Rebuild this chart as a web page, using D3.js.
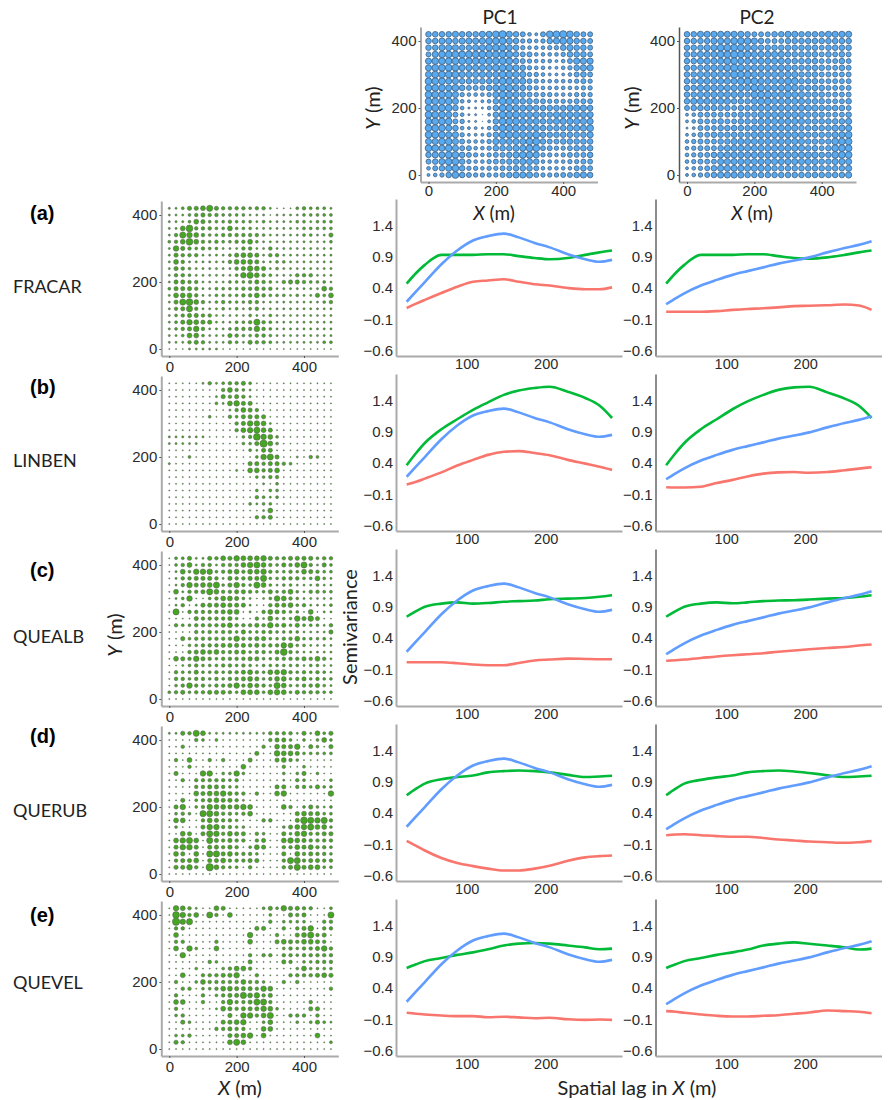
<!DOCTYPE html>
<html>
<head>
<meta charset="utf-8">
<style type="text/css">
	body { margin: 0; background: white; }
	svg { display: block; }
	text { fill: #222; }
	.tick text { font-family: "Liberation Sans", Arial, sans-serif; fill: #2b2b2b; }
	.label { font-family: Lato, "Open Sans", sans-serif; }
	.letter { font-family: "Liberation Sans", Arial, sans-serif; font-weight: bold; font-size: 20px; fill: black; }
</style>
</head>
<body>
<svg id="chart" width="888" height="1100"></svg>
<script src="https://d3js.org/d3.v7.min.js"></script>
<script>
// abundance class (0-9) per stem-map cell, rows go from Y=420 down to Y=0, columns X=0..480
var pc1Rows = [
	"66667 66677 89765 32588 98655", "66776 77778 88764 43467 87665", "66777 66778 88764 33344 67665",
	"57888 88888 88865 53333 46665", "78888 88888 88865 43332 35777", "78888 77777 88876 43322 34677",
	"78888 77777 78877 44322 23565", "88877 66666 78877 54333 33454", "88878 65556 78876 54333 33344",
	"88887 43334 78876 54443 33444", "88887 32123 68876 65544 44555", "88886 31113 68877 76666 67776",
	"88875 31102 68887 77667 77777", "88885 41102 68887 77667 77777", "88876 32213 68887 77666 67778",
	"88877 42224 68887 78666 66667", "77887 53334 77777 88655 66666", "88787 55334 66677 88554 45666",
	"67788 65434 55678 87443 45556", "56788 64334 55667 76333 34455", "35678 64434 45566 65333 33565",
	"23468 65444 45677 75444 55676"
];
var pc2Rows = [
	"66777 77776 55566 77666 67777", "66667 77888 76555 66666 66666", "66677 88887 76666 66666 56666",
	"66777 88988 77777 66666 56565", "66777 78877 77777 66666 55565", "66677 78987 77777 76666 65565",
	"66777 77988 77777 77666 55555", "66777 77788 87777 88666 55555", "66777 77777 88777 87666 65555",
	"66777 77776 88877 87766 65555", "67777 77666 78877 77766 65556", "56666 66566 77777 77777 66665",
	"23555 55566 67777 77766 65556", "23555 65566 67777 77766 66667", "12555 66666 77777 77666 66777",
	"23556 66666 77777 77766 66778", "34555 66777 77777 77766 66888", "34555 67777 77777 77766 56888",
	"34556 77777 77777 77777 66888", "34555 77777 77777 77777 66777", "23456 77777 77766 66666 66667",
	"23456 77776 66666 66666 66667"
];
var fracarRows = [
	"11244 57433 33233 10002 32221", "11123 43322 22111 01111 22222", "11125 42223 22212 11112 21222",
	"11583 33225 22211 11111 22222", "13765 32233 33332 11111 22114", "23585 32322 33521 11111 11112",
	"16432 32211 13311 31111 11111", "14333 11112 45541 33111 11111", "15311 11113 55541 12211 11111",
	"14321 11111 34654 12111 11111", "13321 11111 26753 21113 33111", "14433 11112 22343 21344 32221",
	"24443 11222 23343 31111 11153", "15553 11222 23353 22212 11425", "14785 31232 22331 11111 11123",
	"13473 11121 21231 11111 11111", "12344 33111 11211 21111 11111", "12465 44111 22373 21111 11111",
	"12346 31112 33363 21111 11111", "11255 21114 32233 21111 11111", "11134 31113 21433 21111 11122",
	"00011 11100 00000 00000 00000"
];
var linbenRows = [
	"00000 13123 34200 00000 00000", "00000 00035 32100 00000 00000", "00000 00143 43100 00000 00000",
	"00000 00215 64400 00000 00000", "00000 00001 35430 00000 00000", "00000 02003 24444 00000 00000",
	"00000 00000 34665 10000 00000", "00000 00000 35675 40000 00000", "11111 10000 02386 52000 00000",
	"11111 00000 02249 52000 00000", "00000 00000 00214 40000 00000", "00020 00000 00026 74001 03200",
	"10000 00000 00443 44320 00000", "00000 00000 10553 45000 00000", "00000 00000 00022 33000 00000",
	"00000 00000 00001 02000 00000", "00000 00000 00020 22000 00000", "00000 00000 00032 12000 00000",
	"00000 00000 00212 20000 00000", "00000 00000 00001 50000 00000", "00000 00000 00033 40000 00000",
	"00000 00000 00000 00000 00000"
];
var quealbRows = [
	"02241 14354 65556 43344 44233", "02351 33133 35675 32435 73142", "01526 66234 53556 32232 54322",
	"01334 44314 33447 22333 22521", "01364 55724 63275 21221 11211", "05133 47533 44322 42352 13322",
	"01260 02355 42101 26532 11111", "01301 44454 44100 34452 31112", "07033 33345 50103 54322 05011",
	"00004 33334 20031 52226 46400", "03223 33345 33343 63424 22213", "00003 23233 24223 32222 11114",
	"00423 33333 63344 22335 22221", "00022 33344 44343 33652 21111", "00034 54533 44233 24832 11111",
	"05436 43233 33442 23333 43531", "00123 22233 23212 22222 12211", "03224 22323 34532 55632 32321",
	"03323 32323 34542 35523 42322", "02363 32334 63543 27522 33421", "23423 34443 25552 56524 33322",
	"00000 00000 00000 00000 00000"
];
var querubRows = [
	"11437 51111 11111 33331 41524", "00003 20200 00000 34420 20252", "00300 00000 00003 05446 04204",
	"00000 00000 00040 06554 22222", "03050 03030 00400 04532 00000", "00030 00000 05000 00300 20000",
	"04000 66022 62000 00202 40200", "00303 33332 30000 00103 20002", "00003 34432 20000 04403 32422",
	"00005 45564 33030 05600 00006", "00402 34544 31000 00000 00000", "04602 36554 56500 00530 24212",
	"02320 77533 23500 00004 54422", "05500 35433 20003 30004 87673", "02000 46633 22000 00245 67552",
	"00540 47635 44032 00425 63344", "05675 07434 33034 00565 43333", "04664 04434 30254 00335 45332",
	"05405 07745 33320 00405 34332", "03445 04453 33440 00377 34433", "04463 09532 20300 00347 45522",
	"00000 00000 00000 00000 00000"
];
var quevelRows = [
	"06531 00540 00002 42644 33002", "08635 07305 00000 20043 40007", "09670 00000 00000 30222 20033",
	"03300 00000 00044 00303 46033", "05000 00000 00600 03004 57340", "03300 00300 00500 04543 55430",
	"05062 00500 00000 00232 33463", "00600 00000 00303 30332 33333", "00000 03200 00400 00430 22333",
	"00002 00023 55300 00002 52222", "00500 33344 60030 00033 33454", "03002 53333 35332 00303 00000",
	"00330 22355 44436 50000 00003", "03000 30234 47563 40000 00000", "05500 30036 33477 30000 03000",
	"03000 00154 34446 52000 04400", "02300 00004 06635 70033 30300", "00420 00044 56002 50002 02421",
	"00000 00334 33005 50000 00000", "02230 00004 45605 00000 00500", "04300 00005 75000 00000 00002",
	"00000 00000 00000 00000 00000"
];

// semivariance curves, all read at these lags
var lags = [24, 36, 47, 68, 88, 108, 127, 147, 166, 186, 205, 228, 250, 268, 284];
var pc1Var = [0.18, 0.345, 0.495, 0.78, 1.0, 1.16, 1.23, 1.27, 1.21, 1.12, 1.05, 0.94, 0.86, 0.82, 0.85];
var pc2Var = [0.14, 0.235, 0.315, 0.44, 0.53, 0.61, 0.67, 0.73, 0.79, 0.84, 0.89, 0.97, 1.04, 1.09, 1.15];

var fracarVar = [0.47, 0.64, 0.77, 0.93, 0.93, 0.93, 0.94, 0.94, 0.91, 0.88, 0.86, 0.88, 0.93, 0.97, 1.00];
var fracarPc1 = [0.08, 0.15, 0.21, 0.32, 0.42, 0.50, 0.52, 0.54, 0.50, 0.46, 0.44, 0.40, 0.38, 0.38, 0.41];
var fracarVar2 = [0.47, 0.64, 0.77, 0.93, 0.93, 0.93, 0.94, 0.94, 0.91, 0.88, 0.87, 0.89, 0.93, 0.97, 1.00];
var fracarPc2 = [0.02, 0.02, 0.02, 0.02, 0.03, 0.05, 0.065, 0.075, 0.09, 0.11, 0.115, 0.125, 0.135, 0.12, 0.05];

var linbenVar = [0.365, 0.56, 0.72, 0.94, 1.10, 1.25, 1.37, 1.49, 1.56, 1.60, 1.62, 1.54, 1.44, 1.32, 1.12];
var linbenPc1 = [0.056, 0.10, 0.15, 0.25, 0.36, 0.45, 0.53, 0.58, 0.59, 0.56, 0.525, 0.45, 0.39, 0.34, 0.29];
var linbenVar2 = [0.365, 0.56, 0.72, 0.94, 1.10, 1.26, 1.385, 1.49, 1.57, 1.61, 1.62, 1.53, 1.43, 1.315, 1.12];
var linbenPc2 = [0.013, 0.008, 0.008, 0.02, 0.08, 0.13, 0.185, 0.23, 0.25, 0.255, 0.243, 0.255, 0.285, 0.31, 0.333];

var quealbVar = [0.74, 0.83, 0.90, 0.95, 0.97, 0.95, 0.96, 0.98, 0.99, 1.00, 1.02, 1.03, 1.04, 1.06, 1.085];
var quealbPc1 = [0.013, 0.013, 0.013, 0.013, -0.003, -0.025, -0.035, -0.035, 0.0, 0.04, 0.055, 0.07, 0.065, 0.06, 0.06];
var quealbVar2 = [0.74, 0.83, 0.90, 0.95, 0.97, 0.955, 0.97, 0.99, 1.00, 1.005, 1.015, 1.03, 1.04, 1.06, 1.085];
var quealbPc2 = [0.035, 0.045, 0.055, 0.08, 0.105, 0.125, 0.14, 0.157, 0.18, 0.20, 0.22, 0.24, 0.255, 0.28, 0.295];

var querubVar = [0.685, 0.79, 0.87, 0.94, 0.975, 1.00, 1.05, 1.07, 1.08, 1.07, 1.05, 1.01, 0.975, 0.985, 0.995];
var querubPc1 = [-0.045, -0.125, -0.20, -0.32, -0.40, -0.45, -0.49, -0.52, -0.52, -0.49, -0.445, -0.365, -0.31, -0.29, -0.28];
var querubVar2 = [0.685, 0.79, 0.87, 0.93, 0.97, 1.00, 1.05, 1.07, 1.08, 1.065, 1.04, 1.005, 0.975, 0.985, 0.995];
var querubPc2 = [0.045, 0.056, 0.06, 0.045, 0.03, 0.02, 0.02, 0.0, -0.024, -0.04, -0.056, -0.067, -0.077, -0.067, -0.05];

var quevelVar = [0.72, 0.78, 0.83, 0.88, 0.93, 0.97, 1.02, 1.08, 1.11, 1.12, 1.11, 1.08, 1.05, 1.02, 1.03];
var quevelPc1 = [0.003, -0.013, -0.024, -0.04, -0.05, -0.05, -0.067, -0.06, -0.07, -0.083, -0.077, -0.10, -0.11, -0.105, -0.11];
var quevelVar2 = [0.72, 0.78, 0.83, 0.88, 0.93, 0.97, 1.015, 1.08, 1.11, 1.13, 1.107, 1.08, 1.05, 1.015, 1.03];
var quevelPc2 = [0.03, 0.02, 0.003, -0.024, -0.045, -0.056, -0.056, -0.045, -0.035, -0.013, 0.008, 0.04, 0.03, 0.02, -0.003];

var mapTicks = [0, 200, 400];
var varTicks = [-0.6, -0.1, 0.4, 0.9, 1.4];
var lagTicks = [100, 200];

var speciesNames = ["FRACAR", "LINBEN", "QUEALB", "QUERUB", "QUEVEL"];
var rowLetters = ["(a)", "(b)", "(c)", "(d)", "(e)"];
var speciesRows = [fracarRows, linbenRows, quealbRows, querubRows, quevelRows];
var pc1Series = [[fracarVar, fracarPc1], [linbenVar, linbenPc1], [quealbVar, quealbPc1], [querubVar, querubPc1], [quevelVar, quevelPc1]];
var pc2Series = [[fracarVar2, fracarPc2], [linbenVar2, linbenPc2], [quealbVar2, quealbPc2], [querubVar2, querubPc2], [quevelVar2, quevelPc2]];

var svg = d3.select("#chart");
var rowBottom = [356, 531, 706, 881, 1056];
var letterY = [220, 394, 577, 743, 922];
var nameY = [293, 467, 643, 817, 989];

// turn digit rows into {x, y, size} cells
function cellsFrom(rows) {
	var cells = [];
	rows.forEach(function(row, j) {
		row.replace(/ /g, "").split("").forEach(function(c, i) {
			cells.push({x: i * 20, y: (rows.length - 1 - j) * 20, size: +c});
		});
	});
	return cells;
}

function styleAxis(g, color, width) {
	g.select(".domain").attr("stroke", color).attr("stroke-width", width);
	g.selectAll(".tick line").attr("stroke", "#555");
}

function drawMap(rows, left, bottom, fill, stroke, rScale, strokeW, axisColor, axisW, tickPad) {
	var xScale = d3.scaleLinear().domain([0, 400]).range([left + 8, left + 142.7]);
	var yScale = d3.scaleLinear().domain([0, 400]).range([bottom - 7, bottom - 141]);
	var plot = svg.append("g");
	plot.selectAll("circle")
		.data(cellsFrom(rows))
		.enter()
		.append("circle")
		.attr("cx", function(d) { return xScale(d.x); })
		.attr("cy", function(d) { return yScale(d.y); })
		.attr("r", function(d) { return rScale(d.size); })
		.attr("fill", fill)
		.attr("stroke", stroke)
		.attr("stroke-width", strokeW);

	var yAxis = svg.append("g")
		.attr("transform", "translate(" + left + ",0)")
		.style("font-size", "15px")
		.call(d3.axisLeft(d3.scaleLinear().domain([yScale.invert(bottom - 155), yScale.invert(bottom)]).range([bottom - 155, bottom]))
			.tickValues(mapTicks).tickSize(2).tickPadding(2).tickSizeOuter(0).tickFormat(d3.format("d")));
	styleAxis(yAxis, axisColor, axisW);
	var xAxis = svg.append("g")
		.attr("transform", "translate(0," + bottom + ")")
		.style("font-size", "15px")
		.call(d3.axisBottom(d3.scaleLinear().domain([xScale.invert(left), xScale.invert(left + 177)]).range([left, left + 177]))
			.tickValues(mapTicks).tickSize(2).tickPadding(tickPad).tickSizeOuter(0).tickFormat(d3.format("d")));
	styleAxis(xAxis, "#aaa", 2);
}

function drawCurves(left, bottom, blue, series, axisColor, axisW) {
	var xScale = d3.scaleLinear().domain([100, 200]).range([left + 70.7, left + 149.7]);
	var yScale = d3.scaleLinear().domain([-0.6, 1.4]).range([bottom - 5.5, bottom - 130.5]);
	var line = d3.line()
		.x(function(d, i) { return xScale(lags[i]); })
		.y(function(d) { return yScale(d); })
		.curve(d3.curveMonotoneX);
	// blue = PC alone, green = species alone, red = cross variogram
	[[series[1], "#F8766D"], [series[0], "#00BA38"], [blue, "#619CFF"]].forEach(function(s) {
		svg.append("path")
			.attr("d", line(s[0]))
			.attr("fill", "none")
			.attr("stroke", s[1])
			.attr("stroke-width", 2.6)
			.attr("stroke-linejoin", "round");
	});

	var yAxis = svg.append("g")
		.attr("transform", "translate(" + left + ",0)")
		.style("font-size", "15px")
		.call(d3.axisLeft(d3.scaleLinear().domain([yScale.invert(bottom - 157), yScale.invert(bottom)]).range([bottom - 157, bottom]))
			.tickValues(varTicks).tickSize(0).tickPadding(3).tickSizeOuter(0).tickFormat(d3.format(".1f")));
	styleAxis(yAxis, axisColor, axisW);
	var xAxis = svg.append("g")
		.attr("transform", "translate(0," + bottom + ")")
		.style("font-size", "14.5px")
		.call(d3.axisBottom(d3.scaleLinear().domain([xScale.invert(left), xScale.invert(left + 226)]).range([left, left + 226]))
			.tickValues(lagTicks).tickSize(0).tickPadding(3).tickSizeOuter(0).tickFormat(d3.format("d")));
	styleAxis(xAxis, "#aaa", 2);
}

function addLabel(x, y, size, parts, rotate) {
	var t = svg.append("text")
		.attr("class", "label")
		.attr("text-anchor", "middle")
		.attr("font-size", size)
		.attr("transform", "translate(" + x + "," + y + ")" + (rotate ? " rotate(-90)" : ""));
	parts.forEach(function(p) {
		t.append("tspan").attr("font-style", p[1] ? "italic" : "normal").text(p[0]);
	});
}

var blueR = d3.scalePow().exponent(0.7).domain([0, 9]).range([0.3, 3.6]);
var greenR = d3.scalePow().exponent(0.85).domain([0, 9]).range([0.6, 3.7]);

// top row, the PC maps
drawMap(pc1Rows, 420.5, 182, "#57a9f0", "#46688a", blueR, 0.9, "#aaa", 2, 1);
drawMap(pc2Rows, 679, 182, "#57a9f0", "#46688a", blueR, 0.9, "#555", 1.5, 1);
addLabel(500, 24, 19, [["PC1", false]]);
addLabel(757, 24, 19, [["PC2", false]]);
addLabel(494, 220, 19, [["X", true], [" (m)", false]]);
addLabel(752, 220, 19, [["X", true], [" (m)", false]]);
addLabel(380, 108, 20, [["Y", true], [" (m)", false]], true);
addLabel(639, 108, 20, [["Y", true], [" (m)", false]], true);

speciesNames.forEach(function(name, i) {
	svg.append("text").attr("class", "letter").attr("x", 30).attr("y", letterY[i]).text(rowLetters[i]);
	svg.append("text").attr("class", "label").attr("x", 13).attr("y", nameY[i]).attr("font-size", 18).text(name);
	drawMap(speciesRows[i], 161.3, rowBottom[i], "#45a622", "#5a5a5a", greenR, 0.5, "#aaa", 2, 3);
	drawCurves(396, rowBottom[i], pc1Var, pc1Series[i], "#aaa", 2);
	drawCurves(655.5, rowBottom[i], pc2Var, pc2Series[i], "#666", 1.5);
});

addLabel(122, 635, 20, [["Y", true], [" (m)", false]], true);
addLabel(357, 627, 20, [["Semivariance", false]], true);
addLabel(240, 1095, 20, [["X", true], [" (m)", false]]);
addLabel(637, 1095, 20, [["Spatial lag in ", false], ["X", true], [" (m)", false]]);
</script>
</body>
</html>
